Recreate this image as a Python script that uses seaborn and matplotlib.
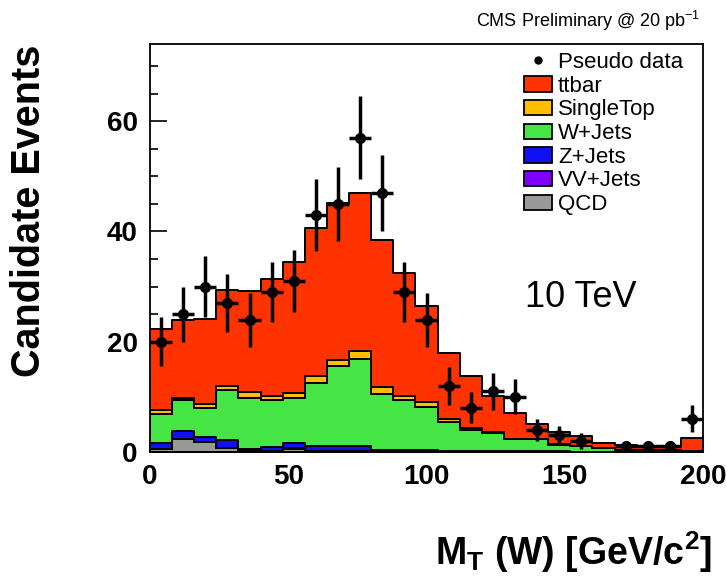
import numpy as np
import pandas as pd
import matplotlib
matplotlib.use('Agg')
import matplotlib.pyplot as plt
from matplotlib.patches import Patch
from matplotlib.lines import Line2D
from matplotlib.ticker import MultipleLocator
import seaborn as sns

# bins of 8 GeV from 0 to 200
edges = np.arange(0, 208, 8)
centers = edges[:-1] + 4

# pseudo data counts per bin
data = [20, 25, 30, 27, 24, 29, 31, 43, 45, 57, 47, 29, 24,
        12, 8, 11, 10, 4, 3, 2, 0, 1, 1, 1, 6]

# expected events per process
qcd = [0.5, 2.3, 1.8, 0.7, 0.1, 0.1, 0.6, 0.1, 0.1, 0.1, 0.0, 0.0, 0.0,
       0, 0, 0, 0, 0, 0, 0, 0, 0, 0, 0, 0]
vv = [0.05, 0.05, 0.05, 0.05, 0.05, 0.05, 0.05, 0.05, 0.05, 0.05, 0.05, 0.05, 0.05,
      0, 0, 0, 0, 0, 0, 0, 0, 0, 0, 0, 0]
zjets = [1.0, 1.5, 0.9, 1.5, 0.4, 0.7, 1.0, 1.0, 0.9, 1.0, 0.3, 0.3, 0.3,
         0.2, 0.2, 0.1, 0.1, 0.1, 0.1, 0, 0, 0, 0, 0, 0]
wjets = [5.3, 5.5, 5.2, 9.0, 9.3, 8.5, 8.2, 11.4, 14.6, 15.8, 10.1, 9.0, 7.8,
         5.3, 3.7, 3.3, 2.2, 2.2, 1.2, 1.0, 0.7, 0.3, 0.3, 0.3, 0.2]
singletop = [0.8, 0.5, 0.8, 0.8, 1.0, 0.8, 0.9, 1.2, 1.0, 1.3, 1.3, 0.8, 0.9,
             0.5, 0.4, 0.2, 0.1, 0.1, 0.1, 0.1, 0.0, 0.05, 0, 0, 0]
ttbar = [14.7, 14.1, 15.4, 17.3, 18.3, 21.2, 23.8, 26.8, 28.6, 28.8, 26.7, 22.3, 17.5,
         11.9, 9.4, 6.5, 4.6, 2.7, 2.3, 1.8, 0.9, 0.85, 0.7, 0.7, 2.3]

processes = ['ttbar', 'SingleTop', 'W+Jets', 'Z+Jets', 'VV+Jets', 'QCD']
colors = {'ttbar': '#ff3300', 'SingleTop': '#ffbf00', 'W+Jets': '#44e544',
          'Z+Jets': '#1010f0', 'VV+Jets': '#8000ff', 'QCD': '#999999'}

frames = []
for name, vals in zip(processes, [ttbar, singletop, wjets, zjets, vv, qcd]):
    frames.append(pd.DataFrame({'mt': centers, 'events': vals, 'process': name}))
df = pd.concat(frames, ignore_index=True)

sns.set_style('ticks')
plt.rcParams['font.family'] = ['Liberation Sans', 'DejaVu Sans']
plt.rcParams['mathtext.default'] = 'regular'
plt.rcParams['text.color'] = 'black'

fig = plt.figure(figsize=(7.26, 5.8), dpi=100)
ax = fig.add_axes([150 / 726, 1 - 452 / 580, 553 / 726, 408 / 580])

sns.histplot(data=df, x='mt', weights='events', hue='process', hue_order=processes,
             palette=colors, binwidth=8, binrange=(0, 200), multiple='stack',
             element='step', fill=True, alpha=1, edgecolor='black', linewidth=1.4,
             legend=False, ax=ax)

d = np.array(data, dtype=float)
mask = d > 0
ax.errorbar(centers[mask], d[mask], yerr=np.sqrt(d[mask]), xerr=4, fmt='o',
            color='black', ms=7, elinewidth=2.5, capsize=0, zorder=5)

ax.set_xlim(0, 200)
ax.set_ylim(0, 74)
ax.set_xlabel('')
ax.set_ylabel('')
ax.xaxis.set_major_locator(MultipleLocator(50))
ax.xaxis.set_minor_locator(MultipleLocator(10))
ax.yaxis.set_major_locator(MultipleLocator(20))
ax.yaxis.set_minor_locator(MultipleLocator(5))
ax.tick_params(which='both', direction='in', width=1.2, colors='black',
               bottom=True, left=True, top=False, right=False)
ax.tick_params(which='major', length=12)
ax.tick_params(which='minor', length=6)
ax.tick_params(axis='y', which='major', pad=9)
ax.tick_params(axis='x', which='major', pad=9)
for lab in ax.get_xticklabels() + ax.get_yticklabels():
    lab.set_fontsize(20)
    lab.set_fontweight('bold')
for sp in ax.spines.values():
    sp.set_visible(True)
    sp.set_linewidth(1.3)
    sp.set_color('black')

handles = [Line2D([], [], marker='o', color='black', ls='none', ms=5)]
handles += [Patch(facecolor=colors[p], edgecolor='black', linewidth=1.3) for p in processes]
labels = ['Pseudo data'] + processes
fig.legend(handles, labels, loc='upper left', bbox_to_anchor=(524 / 726, 1 - 52 / 580),
           frameon=False, fontsize=16, handlelength=1.26, handleheight=0.68,
           handletextpad=0.27, labelspacing=0.12, borderpad=0, borderaxespad=0)

fig.text(700 / 726, 1 - 27 / 580, r'CMS Preliminary @ 20 pb$^{-1}$', ha='right',
         va='baseline', fontsize=13, color='black')
fig.text(525 / 726, 1 - 307 / 580, '10 TeV', ha='left', va='baseline', fontsize=26,
         color='black')
fig.text(29 / 726, 1 - 211 / 580, 'Candidate Events', rotation=90, ha='center',
         va='center', fontsize=28.5, fontweight='bold', color='black')
fig.text(712 / 726, 1 - 565 / 580, r'M$_T$ (W) [GeV/c$^2$]', ha='right',
         va='baseline', fontsize=27, fontweight='bold', color='black')

fig.savefig('out.png', dpi=100)
